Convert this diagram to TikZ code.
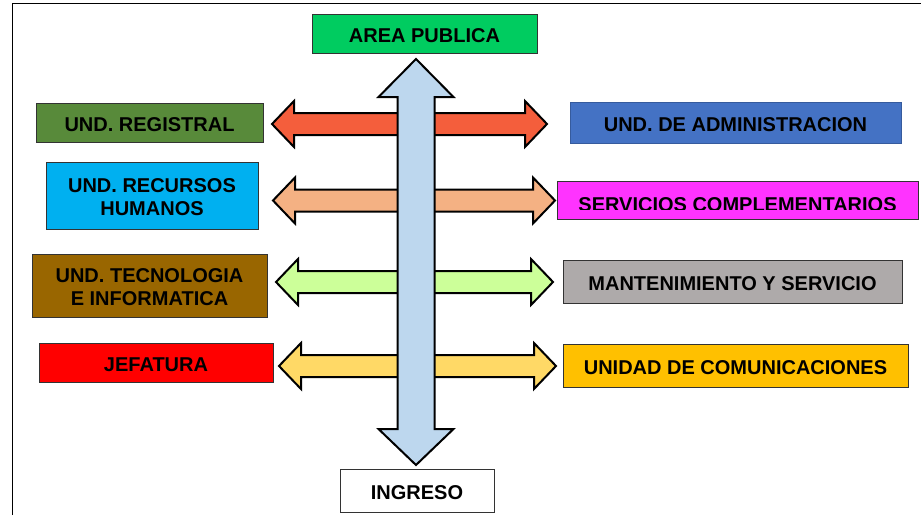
\documentclass[tikz,border=0pt]{standalone}
\usepackage{fontspec}
\setmainfont{Liberation Sans}
\usepackage{tikz}
\usetikzlibrary{calc}
\definecolor{verdearea}{RGB}{0,204,96}
\definecolor{verdereg}{RGB}{88,138,58}
\definecolor{celeste}{HTML}{00B0F0}
\definecolor{marron}{HTML}{996600}
\definecolor{azuladm}{HTML}{4472C4}
\definecolor{magenta2}{HTML}{FF33FF}
\definecolor{gris}{HTML}{AEAAAA}
\definecolor{naranja}{HTML}{FFC000}
\definecolor{rojoflecha}{RGB}{244,94,60}
\definecolor{durazno}{HTML}{F4B183}
\definecolor{verdeclaro}{HTML}{CCFF99}
\definecolor{amarillo}{HTML}{FFD966}
\definecolor{azulclaro}{HTML}{BDD7EE}
\tikzset{
    unit/.style={draw=black!80, line width=1pt, rectangle, inner sep=0pt, text height=18pt, text depth=0pt, align=center, font=\bfseries\fontsize{20}{23}\selectfont},
    twolines/.style={text height=40pt},
    flecha/.style={draw=black, line width=2pt, line join=miter}
}
% double arrow between two named coordinates: fill, left tip, right tip
\newcommand{\dblarrow}[3]{%
  \draw[flecha, fill=#1] (#2) -- ++(22,-23) -- ++(0,12) -- ($(#3)+(-22,-11)$) -- ++(0,-12)
    -- (#3) -- ++(-22,23) -- ++(0,-12) -- ($(#2)+(22,11)$) -- ++(0,12) -- cycle;}

\begin{document}
\begin{tikzpicture}[x=1pt, y=-1pt]
\useasboundingbox (0,0) rectangle (921,515);
\draw[line width=1.7pt] (12.5,515) |- (921,3.5);

% arrow ends
\coordinate (l1) at (272,124);
\coordinate (r1) at (547,124);
\coordinate (l2) at (273,200.5);
\coordinate (r2) at (555,200.5);
\coordinate (l3) at (276,282);
\coordinate (r3) at (553,282);
\coordinate (l4) at (279,366);
\coordinate (r4) at (556,366);
\coordinate (up) at (416,59);
\coordinate (down) at (416,465);

\dblarrow{rojoflecha}{l1}{r1}
\dblarrow{durazno}{l2}{r2}
\dblarrow{verdeclaro}{l3}{r3}
\dblarrow{amarillo}{l4}{r4}

% main vertical arrow
\draw[flecha, fill=azulclaro] (up) -- ++(37.5,38) -- ++(-19,0) -- ($(down)+(18.5,-36)$) -- ++(19,0)
  -- (down) -- ++(-37.5,-36) -- ++(19,0) -- ($(up)+(-18.5,38)$) -- ++(-19,0) -- cycle;

\node[unit, fill=verdearea, minimum width=225, minimum height=39] (area) at (424.5,33.5) {AREA PUBLICA};
\node[unit, fill=white, minimum width=154, minimum height=43] (ingreso) at (417,490.5) {INGRESO};

\node[unit, fill=verdereg, minimum width=227, minimum height=39] (registral) at (149.5,122.5) {UND. REGISTRAL};
\node[unit, twolines, fill=celeste, minimum width=212, minimum height=67] (rrhh) at (152,195.5) {UND. RECURSOS\\HUMANOS};
\node[unit, twolines, fill=marron, minimum width=235, minimum height=63] (tecno) at (149.5,285.5) {UND. TECNOLOGIA\\E INFORMATICA};
\node[unit, fill=red, minimum width=234, minimum height=39] (jefatura) at (156,362.5) {JEFATURA};

\node[unit, fill=azuladm, draw=azuladm!80!black, minimum width=331, minimum height=41] (admin) at (735.5,122.5) {UND. DE ADMINISTRACION};
\node[unit, fill=magenta2, minimum width=361, minimum height=38] (servicios) at (737.5,200) {};
\begin{scope}
\clip (557,182) rectangle (917,209);
\node[unit, draw=none, anchor=base] (servtexto) at (737.5,211) {SERVICIOS COMPLEMENTARIOS};
\end{scope}
\node[unit, fill=gris, minimum width=339, minimum height=43] (mant) at (732.5,281.5) {MANTENIMIENTO Y SERVICIO};
\node[unit, fill=naranja, minimum width=345, minimum height=43] (comunic) at (735.5,365.5) {UNIDAD DE COMUNICACIONES};
\end{tikzpicture}
\end{document}
